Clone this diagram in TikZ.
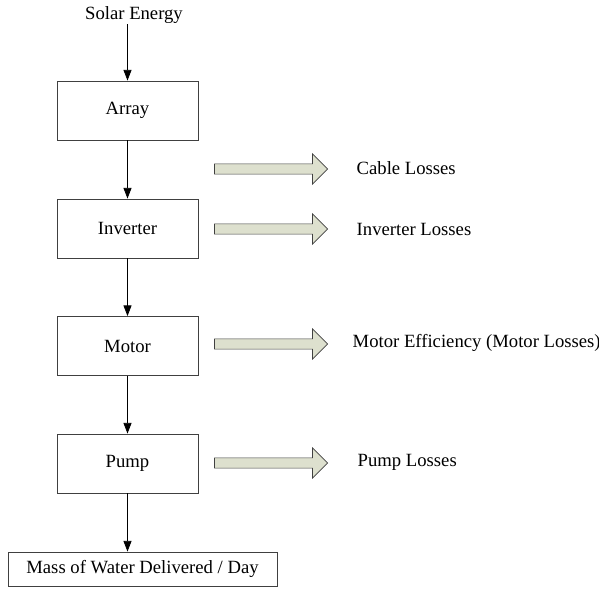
\documentclass[tikz,border=0pt]{standalone}
\usepackage{fontspec}
\setmainfont{Liberation Serif}
\usetikzlibrary{calc,shapes}
\usetikzlibrary{shapes.arrows}
\usetikzlibrary{arrows.meta}
\definecolor{lossfill}{RGB}{221,224,206}
\definecolor{boxline}{RGB}{64,64,64}

\begin{document}
\begin{tikzpicture}[x=0.75pt,y=-0.75pt,
    font=\fontsize{14}{16.8}\selectfont,
    stage/.style={draw=boxline, line width=0.6pt, minimum width=105.75pt, minimum height=44.25pt},
    loss/.style={single arrow, draw=boxline, fill=lossfill, line width=0.5pt,
        minimum height=84.75pt, minimum width=22.5pt, inner sep=3.6pt,
        single arrow head extend=7.5pt, single arrow head indent=0pt}]
            \useasboundingbox (0,0) rectangle (599,596);

            \node (solar) at (134,15) {Solar Energy};
            \node[stage] (array) at (127.5,110.5) {Array};
            \node[stage] (inverter) at (127.5,228.5) {Inverter};
            \node[stage] (motor) at (127.5,346) {Motor};
            \node[stage] (pump) at (127.5,463.5) {Pump};
            \node[stage, minimum width=201.75pt, minimum height=25.5pt] (water) at (142.5,569) {Mass of Water Delivered / Day};

            \node[loss] (cable-arr) at (268.5,169) {};
            \node[loss] (inverter-arr) at (268.5,229) {};
            \node[loss] (motor-arr) at (268.5,344) {};
            \node[loss] (pump-arr) at (268.5,463) {};

            \node[anchor=west] (cable-lbl) at (352,168) {Cable Losses};
            \node[anchor=west] (inverter-lbl) at (352,229) {Inverter Losses};
            \node[anchor=west] (motor-lbl) at (348,343) {Motor Efficiency (Motor Losses)};
            \node[anchor=west] (pump-lbl) at (353,462) {Pump Losses};

            \foreach \i/\j in {
            array/inverter,
            inverter/motor,
            motor/pump}{\path[-{Triangle[length=8pt, width=6pt]}, line width = 0.6] (\i) edge (\j);}
            \draw[-{Triangle[length=8pt, width=6pt]}, line width = 0.6] ($(array.north |- solar.south)+(0,-4)$) -- (array.north);
            \draw[-{Triangle[length=8pt, width=6pt]}, line width = 0.6] (pump.south) -- (pump.south |- water.north);
        \end{tikzpicture}
\end{document}
